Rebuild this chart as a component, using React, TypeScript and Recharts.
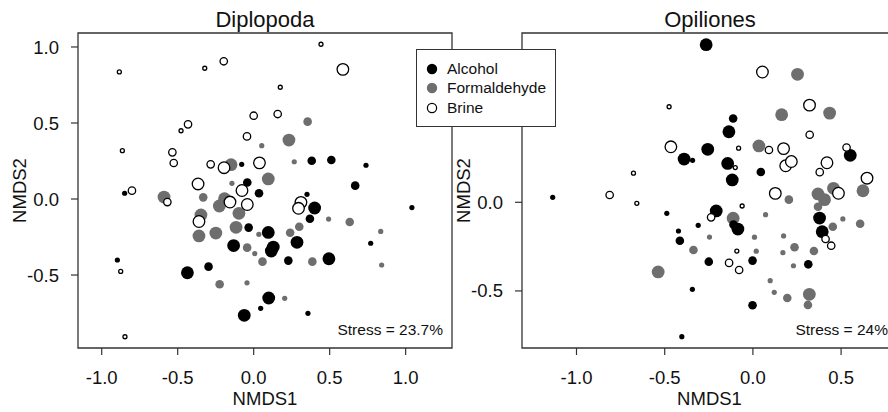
import React from 'react';
import { ScatterChart, Scatter, XAxis, YAxis, ReferenceArea } from 'recharts';

// [NMDS1, NMDS2, size class]
const dipAlcohol = [
  [-0.079, 0.228, 1], [0.382, 0.252, 2], [0.511, 0.257, 2], [0.739, 0.222, 1],
  [-0.042, 0.109, 2], [0.035, 0.038, 2], [0.668, 0.088, 2], [-0.849, 0.038, 1],
  [0.351, 0.031, 1], [0.401, -0.059, 3], [1.041, -0.056, 1], [0.37, -0.13, 2],
  [-0.033, -0.188, 2], [0.096, -0.22, 3], [0.285, -0.285, 3], [-0.132, -0.306, 3],
  [0.116, -0.342, 3], [0.129, -0.316, 3], [0.228, -0.405, 2], [0.495, -0.393, 3],
  [0.77, -0.291, 1], [-0.897, -0.401, 1], [-0.436, -0.485, 3], [-0.297, -0.445, 2],
  [0.099, -0.651, 3], [0.046, -0.719, 1], [-0.062, -0.765, 3], [0.357, -0.752, 1],
];
const dipFormaldehyde = [
  [0.355, 0.509, 2], [0.232, 0.388, 3], [0.053, 0.351, 1], [-0.149, 0.226, 3],
  [0.267, 0.245, 1], [0.096, 0.132, 3], [-0.143, 0.103, 1], [-0.59, 0.013, 3],
  [-0.332, 0.011, 2], [-0.192, 0.002, 3], [-0.226, -0.046, 3], [-0.097, -0.094, 3],
  [-0.347, -0.105, 3], [0.493, -0.132, 1], [0.632, -0.151, 2], [-0.36, -0.243, 3],
  [-0.249, -0.224, 3], [-0.116, -0.186, 3], [0.034, -0.232, 1], [0.24, -0.222, 2],
  [0.3, -0.182, 2], [-0.043, -0.32, 2], [0.007, -0.359, 1], [0.058, -0.412, 2],
  [0.386, -0.412, 2], [0.836, -0.213, 1], [0.842, -0.434, 1], [-0.224, -0.561, 2],
  [-0.044, -0.551, 1], [0.204, -0.653, 1],
];
const dipBrine = [
  [-0.884, 0.836, 1], [-0.864, 0.318, 1], [-0.322, 0.86, 1], [-0.197, 0.906, 2],
  [0.443, 1.018, 1], [0.587, 0.853, 3], [0.175, 0.735, 1], [0.0, 0.548, 2],
  [0.158, 0.559, 2], [-0.478, 0.449, 1], [-0.432, 0.491, 2], [-0.044, 0.412, 2],
  [-0.535, 0.307, 2], [-0.526, 0.237, 2], [-0.283, 0.228, 2], [-0.195, 0.206, 3],
  [0.038, 0.238, 3], [-0.366, 0.099, 3], [-0.077, 0.056, 3], [-0.801, 0.055, 2],
  [-0.568, -0.02, 2], [-0.156, -0.02, 3], [-0.042, -0.036, 3], [0.311, -0.022, 3],
  [0.295, -0.061, 3], [-0.36, -0.148, 3], [-0.875, -0.476, 1], [-0.847, -0.906, 1],
];

const opiAlcohol = [
  [-0.265, 0.889, 3], [-0.112, 0.473, 2], [-0.136, 0.398, 3], [-0.39, 0.244, 3],
  [-0.342, 0.237, 1], [-0.256, 0.299, 3], [-0.143, 0.219, 3], [0.045, 0.171, 2],
  [-0.117, 0.126, 3], [0.552, 0.265, 3], [-1.135, 0.028, 1], [-0.488, -0.062, 1],
  [-0.208, -0.049, 3], [-0.11, -0.126, 2], [-0.085, -0.151, 3], [-0.31, -0.13, 1],
  [-0.422, -0.162, 1], [-0.414, -0.217, 2], [-0.25, -0.335, 2], [-0.002, -0.329, 2],
  [0.314, -0.35, 2], [0.378, -0.089, 3], [0.393, -0.166, 3], [-0.343, -0.491, 1],
  [-0.002, -0.581, 2], [-0.403, -0.758, 1],
];
const opiFormaldehyde = [
  [0.253, 0.722, 3], [0.163, 0.494, 3], [0.435, 0.503, 3], [0.034, 0.318, 3],
  [0.204, 0.015, 2], [0.369, 0.047, 3], [0.406, 0.015, 3], [0.457, 0.079, 3],
  [0.624, 0.065, 3], [0.369, -0.025, 2], [-0.112, -0.09, 3], [0.072, -0.07, 1],
  [-0.246, -0.196, 1], [-0.337, -0.269, 2], [0.009, -0.197, 1], [0.019, -0.276, 1],
  [0.174, -0.19, 1], [0.17, -0.284, 1], [0.236, -0.254, 2], [0.23, -0.358, 1],
  [0.346, -0.275, 2], [0.453, -0.138, 2], [0.51, -0.094, 1], [0.608, -0.121, 2],
  [-0.537, -0.393, 3], [0.098, -0.442, 1], [0.121, -0.508, 1], [0.195, -0.54, 2],
  [0.32, -0.519, 3], [0.312, -0.579, 2],
];
const opiBrine = [
  [0.054, 0.735, 3], [-0.475, 0.539, 1], [0.321, 0.548, 3], [0.322, 0.381, 2],
  [-0.465, 0.313, 3], [-0.081, 0.305, 1], [0.091, 0.295, 2], [0.174, 0.303, 3],
  [-0.1, 0.196, 1], [0.186, 0.206, 3], [0.218, 0.23, 3], [-0.677, 0.164, 1],
  [0.531, 0.309, 2], [0.42, 0.223, 3], [0.379, 0.17, 2], [0.647, 0.136, 3],
  [-0.812, 0.041, 2], [-0.658, -0.006, 1], [0.127, 0.05, 3], [0.485, 0.051, 3],
  [-0.061, -0.021, 1], [-0.237, -0.085, 2], [-0.091, -0.275, 1], [-0.135, -0.342, 2],
  [-0.078, -0.382, 2], [0.412, -0.207, 2], [0.444, -0.245, 2],
];

const treatments = ['Alcohol', 'Formaldehyde', 'Brine'];
const dipXTicks = [-1, -0.5, 0, 0.5, 1];
const dipYTicks = [-0.5, 0, 0.5, 1];
// the 0.5 label of the right panel sits under the legend box, so it is not shown
const opiXTicks = [-1, -0.5, 0, 0.5];
const opiYTicks = [-0.5, 0];

const GREY = '#6e6e6e';
const INK = '#333';
const RADIUS: Record<number, number> = { 1: 2.6, 2: 4.3, 3: 6.4 };

const toPoints = (rows: number[][]) => rows.map(([x, y, s]) => ({ x, y, s }));

const dot = (fill: string, open: boolean) => (props: any) => {
  const r = RADIUS[props.payload.s] - (open ? 0.6 : 0);
  return (
    <circle
      cx={props.cx}
      cy={props.cy}
      r={r}
      fill={fill}
      stroke={open ? '#000' : 'none'}
      strokeWidth={open ? 1.3 : 0}
    />
  );
};

interface PanelProps {
  alcohol: number[][];
  formaldehyde: number[][];
  brine: number[][];
  xDomain: [number, number];
  yDomain: [number, number];
  xTicks: number[];
  yTicks: number[];
  rightMargin: number;
}

const Panel: React.FC<PanelProps> = ({ alcohol, formaldehyde, brine, xDomain, yDomain, xTicks, yTicks, rightMargin }) => (
  <ScatterChart width={460} height={412} margin={{ top: 33, right: rightMargin, bottom: 0, left: 0 }}>
    <XAxis
      dataKey="x"
      type="number"
      domain={xDomain}
      ticks={xTicks}
      allowDataOverflow
      height={64}
      axisLine={false}
      tickLine={{ stroke: INK, strokeWidth: 1.2 }}
      tickSize={7}
      tickMargin={16}
      tickFormatter={(v) => v.toFixed(1)}
      tick={{ fontSize: 18.5, fill: '#111' }}
      label={{ value: 'NMDS1', position: 'insideBottom', offset: 7, fontSize: 18.5, fill: '#111' }}
    />
    <YAxis
      dataKey="y"
      type="number"
      domain={yDomain}
      ticks={yTicks}
      allowDataOverflow
      width={78}
      axisLine={false}
      tickLine={{ stroke: INK, strokeWidth: 1.2 }}
      tickSize={7}
      tickMargin={12}
      tickFormatter={(v) => v.toFixed(1)}
      tick={{ fontSize: 18.5, fill: '#111' }}
      label={{
        value: 'NMDS2',
        angle: -90,
        position: 'insideLeft',
        offset: 19,
        fontSize: 18.5,
        fill: '#111',
        style: { textAnchor: 'middle' },
      }}
    />
    <Scatter data={toPoints(formaldehyde)} shape={dot(GREY, false)} isAnimationActive={false} />
    <Scatter data={toPoints(alcohol)} shape={dot('#000', false)} isAnimationActive={false} />
    <Scatter data={toPoints(brine)} shape={dot('#fff', true)} isAnimationActive={false} />
    <ReferenceArea
      x1={xDomain[0]}
      x2={xDomain[1]}
      y1={yDomain[0]}
      y2={yDomain[1]}
      fill="none"
      stroke={INK}
      strokeWidth={1.3}
      ifOverflow="visible"
    />
  </ScatterChart>
);

const legendFills = ['#000', GREY, '#fff'];

export default function App() {
  return (
    <div
      style={{
        position: 'absolute',
        left: 0,
        top: 0,
        width: 888,
        height: 412,
        overflow: 'hidden',
        background: '#fff',
        fontFamily: '"Liberation Sans", Arial, sans-serif',
        color: '#111',
      }}
    >
      <div style={{ position: 'absolute', left: 0, top: 0 }}>
        <Panel
          alcohol={dipAlcohol}
          formaldehyde={dipFormaldehyde}
          brine={dipBrine}
          xDomain={[-1.156, 1.305]}
          yDomain={[-0.98, 1.092]}
          xTicks={dipXTicks}
          yTicks={dipYTicks}
          rightMargin={8}
        />
      </div>
      <div style={{ position: 'absolute', left: 444, top: 0 }}>
        <Panel
          alcohol={opiAlcohol}
          formaldehyde={opiFormaldehyde}
          brine={opiBrine}
          xDomain={[-1.309, 0.817]}
          yDomain={[-0.822, 0.955]}
          xTicks={opiXTicks}
          yTicks={opiYTicks}
          rightMargin={7}
        />
      </div>

      <div style={{ position: 'absolute', left: 165, top: 9, width: 200, textAlign: 'center', fontSize: 22, lineHeight: '22px' }}>
        Diplopoda
      </div>
      <div style={{ position: 'absolute', left: 610, top: 9, width: 200, textAlign: 'center', fontSize: 22, lineHeight: '22px' }}>
        Opiliones
      </div>

      <div style={{ position: 'absolute', left: 243, top: 322, width: 200, textAlign: 'right', fontSize: 15.5, lineHeight: '15.5px' }}>
        Stress = 23.7%
      </div>
      <div style={{ position: 'absolute', left: 688, top: 322, width: 200, textAlign: 'right', fontSize: 15.5, lineHeight: '15.5px' }}>
        Stress = 24%
      </div>

      <div
        style={{
          position: 'absolute',
          left: 416,
          top: 49,
          width: 140,
          height: 78,
          boxSizing: 'border-box',
          border: `1.3px solid ${INK}`,
          background: '#fff',
          paddingTop: 9,
        }}
      >
        {treatments.map((name, i) => (
          <div key={name} style={{ display: 'flex', alignItems: 'center', height: 19.5, fontSize: 15.5 }}>
            <svg width={30} height={14} style={{ flex: 'none' }}>
              <circle
                cx={15}
                cy={7}
                r={i === 2 ? 4.6 : 5.2}
                fill={legendFills[i]}
                stroke={i === 2 ? '#000' : 'none'}
                strokeWidth={1.2}
              />
            </svg>
            <span>{name}</span>
          </div>
        ))}
      </div>
    </div>
  );
}
